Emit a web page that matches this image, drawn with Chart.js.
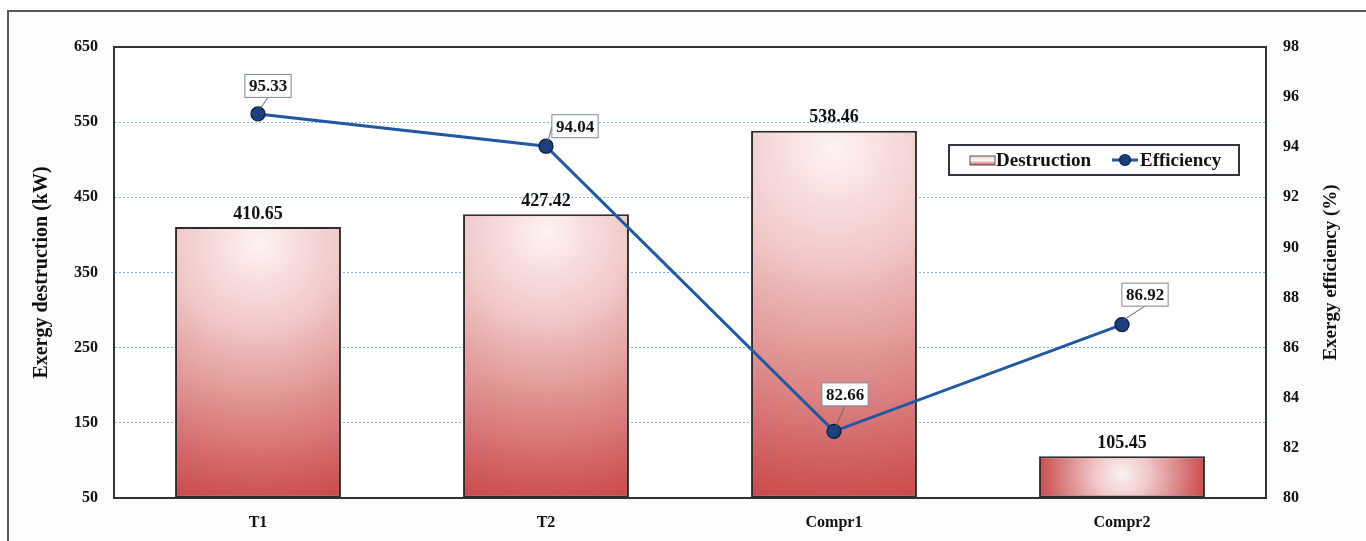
<!DOCTYPE html>
<html>
<head>
<meta charset="utf-8">
<script src="https://cdn.jsdelivr.net/npm/chart.js@4.4.1/dist/chart.umd.min.js"></script>
<style>
  html, body { margin: 0; padding: 0; background: #fff; }
  #wrap { width: 1366px; height: 541px; }
</style>
</head>
<body>
<div id="wrap"><canvas id="c" width="1366" height="541"></canvas></div>
<script>
// data
var categories = ['T1', 'T2', 'Compr1', 'Compr2'];
var destruction = [410.65, 427.42, 538.46, 105.45];
var efficiency = [95.33, 94.04, 82.66, 86.92];
var leftTicks = [50, 150, 250, 350, 450, 550, 650];
var rightTicks = [80, 82, 84, 86, 88, 90, 92, 94, 96, 98];

// where each efficiency box sits relative to its point (px)
var boxOffsets = [[10, -28], [29, -20], [11, -37], [23, -30]];

var SERIF = '"Liberation Serif", "Times New Roman", serif';
var LINE_COLOR = '#1f58a3';
var POINT_FILL = '#1c3f7e';
var BAR_RED = '#c84444';

function barFill(ctx) {
	var chart = ctx.chart;
	var area = chart.chartArea;
	if (!area || ctx.type !== 'data') return BAR_RED;
	var xs = chart.scales.x, ys = chart.scales.y;
	var cx = xs.getPixelForValue(ctx.dataIndex);
	var top = ys.getPixelForValue(destruction[ctx.dataIndex]);
	var bottom = ys.getPixelForValue(ys.min);
	var h = bottom - top;
	var half = (area.right - area.left) / categories.length * 0.576 / 2;
	var cy = top + Math.min(h * 0.45, 18);
	var r = Math.max(h, half * 1.05);
	var g = chart.ctx.createRadialGradient(cx, cy, 0, cx, cy, r);
	g.addColorStop(0, '#fdf2f2');
	g.addColorStop(0.3, '#f1c9c9');
	g.addColorStop(1, BAR_RED);
	return g;
}

var extras = {
	id: 'extras',
	beforeDraw: function(chart) {
		var c = chart.ctx;
		c.save();
		c.fillStyle = '#fcfdfe';
		c.fillRect(9, 12, chart.width - 9, chart.height - 12);
		c.strokeStyle = '#555';
		c.lineWidth = 2;
		c.beginPath();
		c.moveTo(8, chart.height);
		c.lineTo(8, 11);
		c.lineTo(chart.width, 11);
		c.stroke();
		c.fillStyle = '#ffffff';
		var a = chart.chartArea;
		c.fillRect(a.left, a.top, a.right - a.left, a.bottom - a.top);
		c.restore();
	},
	afterDatasetsDraw: function(chart) {
		var c = chart.ctx;
		var a = chart.chartArea;
		c.save();
		// top border of plot area
		c.strokeStyle = '#333';
		c.lineWidth = 2;
		c.beginPath();
		c.moveTo(a.left, a.top);
		c.lineTo(a.right, a.top);
		c.stroke();

		// bar value labels
		c.font = 'bold 18px ' + SERIF;
		c.fillStyle = '#111';
		c.textAlign = 'center';
		c.textBaseline = 'middle';
		var bars = chart.getDatasetMeta(0).data;
		bars.forEach(function(b, i) {
			c.fillText(destruction[i].toFixed(2), b.x, b.y - 13);
		});

		// efficiency labels in boxes with leader lines
		c.font = 'bold 17px ' + SERIF;
		var pts = chart.getDatasetMeta(1).data;
		pts.forEach(function(p, i) {
			var txt = efficiency[i].toFixed(2);
			var bx = p.x + boxOffsets[i][0];
			var by = p.y + boxOffsets[i][1];
			var w = c.measureText(txt).width + 8;
			var h = 23;
			var ex, ey;
			if (Math.abs(boxOffsets[i][1]) < 25) { ex = bx - w / 2; ey = by; }
			else { ex = bx; ey = by + h / 2; }
			c.strokeStyle = '#666';
			c.lineWidth = 1;
			c.beginPath();
			c.moveTo(p.x + 2, p.y - 5);
			c.lineTo(ex, ey);
			c.stroke();
			c.fillStyle = '#ffffff';
			c.fillRect(bx - w / 2, by - h / 2, w, h);
			c.strokeStyle = '#7a8a90';
			c.strokeRect(bx - w / 2, by - h / 2, w, h);
			c.fillStyle = '#111';
			c.fillText(txt, bx, by + 1);
		});
		c.restore();
	},
	afterDraw: function(chart) {
		var c = chart.ctx;
		var a = chart.chartArea;
		var midY = (a.top + a.bottom) / 2;
		c.save();
		c.fillStyle = '#111';
		c.font = 'bold 20px ' + SERIF;
		c.textAlign = 'center';
		c.textBaseline = 'middle';
		c.translate(42, midY);
		c.rotate(-Math.PI / 2);
		c.fillText('Exergy destruction (kW)', 0, 0);
		c.restore();
		c.save();
		c.fillStyle = '#111';
		c.font = 'bold 19px ' + SERIF;
		c.textAlign = 'center';
		c.textBaseline = 'middle';
		c.translate(1331, midY);
		c.rotate(-Math.PI / 2);
		c.fillText('Exergy efficiency (%)', 0, 0);
		c.restore();

		// legend box
		c.save();
		var lx = 949, ly = 145, lw = 290, lh = 30;
		c.fillStyle = '#ffffff';
		c.fillRect(lx, ly, lw, lh);
		c.strokeStyle = '#334';
		c.lineWidth = 2;
		c.strokeRect(lx, ly, lw, lh);
		var sg = c.createLinearGradient(0, ly + 11, 0, ly + 20);
		sg.addColorStop(0, '#f5cfcf');
		sg.addColorStop(0.5, '#fff4f4');
		sg.addColorStop(1, '#cc5858');
		c.fillStyle = sg;
		c.fillRect(970, ly + 11, 25, 9);
		c.strokeStyle = '#555';
		c.lineWidth = 1;
		c.strokeRect(970, ly + 11, 25, 9);
		c.font = 'bold 19px ' + SERIF;
		c.fillStyle = '#111';
		c.textBaseline = 'middle';
		c.textAlign = 'left';
		c.fillText(chart.data.datasets[0].label, 996, ly + 16);
		c.strokeStyle = LINE_COLOR;
		c.lineWidth = 3;
		c.beginPath();
		c.moveTo(1112, ly + 15);
		c.lineTo(1138, ly + 15);
		c.stroke();
		c.beginPath();
		c.arc(1125, ly + 15, 5.5, 0, Math.PI * 2);
		c.fillStyle = POINT_FILL;
		c.fill();
		c.strokeStyle = '#0b1d3d';
		c.lineWidth = 1.2;
		c.stroke();
		c.fillStyle = '#111';
		c.fillText(chart.data.datasets[1].label, 1140, ly + 16);
		c.restore();
	}
};

new Chart(document.getElementById('c'), {
	type: 'bar',
	data: {
		labels: categories,
		datasets: [
			{
				type: 'bar',
				label: 'Destruction',
				data: destruction,
				yAxisID: 'y',
				base: 50,
				backgroundColor: barFill,
				borderColor: '#2b2b2b',
				borderWidth: 2,
				borderSkipped: false,
				categoryPercentage: 1,
				barPercentage: 0.576,
				order: 2
			},
			{
				type: 'line',
				label: 'Efficiency',
				data: efficiency,
				yAxisID: 'y1',
				borderColor: LINE_COLOR,
				borderWidth: 3,
				pointRadius: 7,
				pointBackgroundColor: POINT_FILL,
				pointBorderColor: '#0b1d3d',
				pointBorderWidth: 1.3,
				tension: 0,
				order: 1
			}
		]
	},
	options: {
		responsive: false,
		animation: false,
		layout: { padding: { top: 47, left: 0, right: 0, bottom: 0 } },
		plugins: {
			legend: { display: false },
			tooltip: { enabled: false },
			title: { display: false }
		},
		scales: {
			x: {
				grid: { display: false },
				border: { display: true, color: '#333', width: 2 },
				ticks: { color: '#111', font: { family: SERIF, size: 16, weight: 'bold' }, padding: 7 },
				afterFit: function(s) { s.height = 43; }
			},
			y: {
				position: 'left',
				min: leftTicks[0],
				max: leftTicks[leftTicks.length - 1],
				afterBuildTicks: function(s) { s.ticks = leftTicks.map(function(v) { return { value: v }; }); },
				grid: {
					drawTicks: false,
					color: function(ctx) {
						var v = ctx.tick && ctx.tick.value;
						return (v === leftTicks[0] || v === leftTicks[leftTicks.length - 1]) ? 'rgba(0,0,0,0)' : '#7db4d4';
					},
					lineWidth: 1
				},
				border: { display: true, color: '#333', width: 2, dash: [2, 2] },
				ticks: { color: '#111', font: { family: SERIF, size: 16, weight: 'bold' }, padding: 16 },
				afterFit: function(s) { s.width = 114; }
			},
			y1: {
				position: 'right',
				min: rightTicks[0],
				max: rightTicks[rightTicks.length - 1],
				afterBuildTicks: function(s) { s.ticks = rightTicks.map(function(v) { return { value: v }; }); },
				grid: { drawOnChartArea: false, drawTicks: false },
				border: { display: true, color: '#333', width: 2 },
				ticks: { color: '#111', font: { family: SERIF, size: 16, weight: 'bold' }, padding: 17 },
				afterFit: function(s) { s.width = 100; }
			}
		}
	},
	plugins: [extras]
});
</script>
</body>
</html>
